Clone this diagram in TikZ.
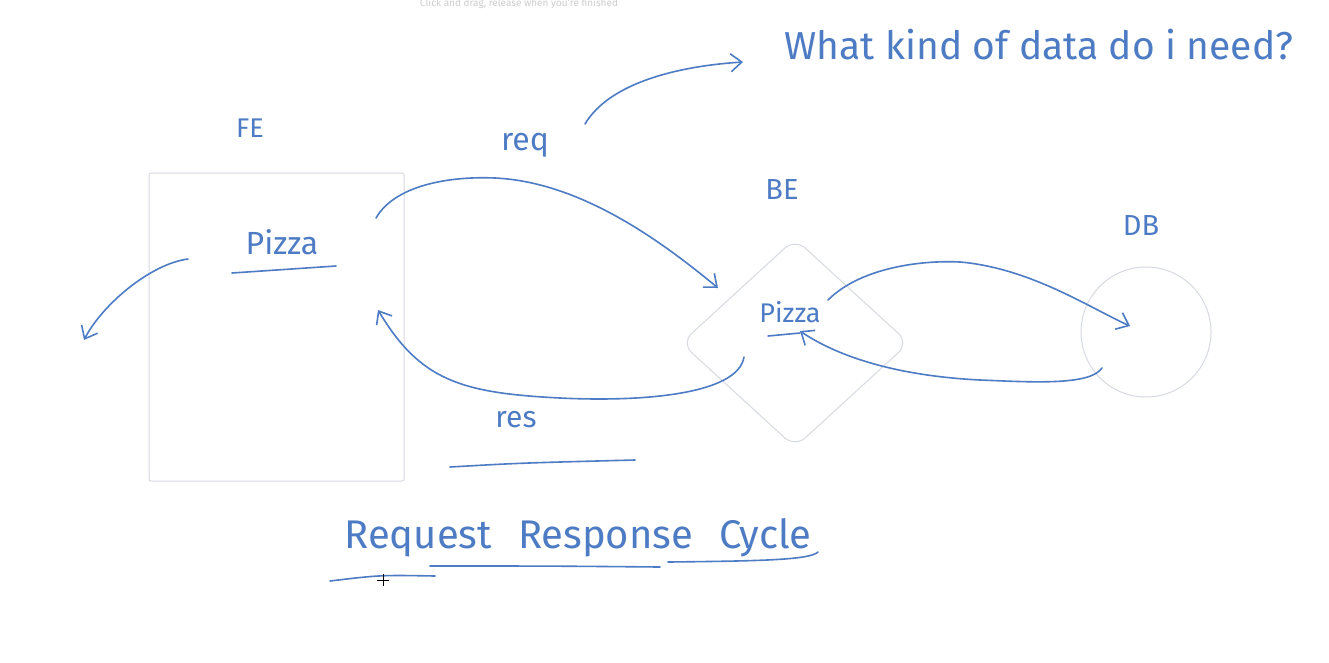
\documentclass[tikz,border=0pt]{standalone}
\usepackage{fontspec}
\setmainfont{Fira Sans}
\usetikzlibrary{arrows.meta,shapes.geometric}
\definecolor{ink}{RGB}{78,124,196}
\definecolor{frame}{RGB}{215,218,225}
\definecolor{hint}{RGB}{205,205,205}
\tikzset{
  pen/.style={draw=ink, line width=1.6pt, line cap=round, line join=round},
  arrowpen/.style={pen, -{Straight Barb[length=11pt,width=18pt,line width=1.6pt]}},
  hand/.style={text=ink, inner sep=0pt, anchor=center},
  shapeframe/.style={draw=frame, line width=1pt, inner sep=0pt},
}
\begin{document}
\begin{tikzpicture}[x=1pt,y=-1pt]
\useasboundingbox[fill=white] (0,0) rectangle (1329,662);
% hint text
\node[text=hint, font=\fontsize{10}{12}\selectfont, inner sep=0pt] (hinttext) at (519,4) {Click and drag, release when you're finished};
% shapes
\node[shapeframe, rectangle, rounded corners=2pt, minimum width=255pt, minimum height=308pt] (fe) at (276.5,327) {};
\node[shapeframe, diamond, rounded corners=14pt, minimum width=228pt, minimum height=209pt] (be) at (795,343) {};
\node[shapeframe, circle, minimum size=130pt] (db) at (1146,332) {};
% labels
\node[hand, font=\fontsize{27}{30}\selectfont] (felabel) at (250,128) {FE};
\node[hand, font=\fontsize{29}{32}\selectfont] (belabel) at (782,190) {BE};
\node[hand, font=\fontsize{29}{32}\selectfont] (dblabel) at (1141,226) {DB};
\node[hand, font=\fontsize{32}{34}\selectfont] (pizza1) at (282,242) {Pizza};
\node[hand, font=\fontsize{27}{30}\selectfont] (pizza2) at (790,312) {Pizza};
\node[hand, font=\fontsize{32}{34}\selectfont] (req) at (525,145) {req};
\node[hand, font=\fontsize{30}{32}\selectfont] (res) at (516,420) {res};
\node[hand, font=\fontsize{39}{42}\selectfont] (question) at (1039,45) {What kind of data do i need?};
\node[hand, font=\fontsize{40}{44}\selectfont] (title) at (578,538) {Request\hspace{26pt}Response\hspace{26pt}Cycle};
% underline coordinates
\coordinate (u1a) at (232,273); \coordinate (u1b) at (336,266);
\coordinate (u2a) at (768,336); \coordinate (u2b) at (800,333);
\coordinate (u3a) at (450,467); \coordinate (u3b) at (635,460);
\coordinate (t1a) at (330,581); \coordinate (t1b) at (435,576);
\coordinate (t2a) at (430,566); \coordinate (t2b) at (660,567);
\coordinate (t3a) at (668,562); \coordinate (t3b) at (818,552);
\draw[pen] (u1a) -- (u1b);
\draw[pen] (u2a) -- (u2b);
\draw[pen] (u3a) .. controls (520,463) .. (u3b);
\draw[pen] (t1a) .. controls (380,575) .. (t1b);
\draw[pen] (t2a) .. controls (550,566) .. (t2b);
\draw[pen] (t3a) .. controls (760,561) and (810,560) .. (t3b);
% connector coordinates
\coordinate (reqS) at (376,218); \coordinate (reqE) at (718,288);
\coordinate (resS) at (744,357); \coordinate (resE) at (378,310);
\coordinate (bdS) at (828,300); \coordinate (bdE) at (1130,326);
\coordinate (dbS) at (1102,368); \coordinate (dbE) at (800,331);
\coordinate (qS) at (585,124); \coordinate (qE) at (743,62);
\coordinate (lS) at (188,259); \coordinate (lE) at (84,340);
% connectors
\draw[arrowpen] (reqS) .. controls (395,185) and (450,176) .. (495,178) .. controls (580,182) and (660,240) .. (reqE);
\draw[arrowpen] (resS) .. controls (738,395) and (640,402) .. (560,398) .. controls (460,393) and (420,380) .. (resE);
\draw[arrowpen] (bdS) .. controls (860,268) and (920,260) .. (960,262) .. controls (1030,268) and (1090,308) .. (bdE);
\draw[arrowpen] (dbS) .. controls (1090,386) and (1030,382) .. (980,380) .. controls (900,376) and (840,358) .. (dbE);
\draw[arrowpen] (qS) .. controls (610,82) and (680,66) .. (qE);
\draw[arrowpen] (lS) .. controls (150,264) and (102,305) .. (lE);
% cursor
\coordinate (cur) at (383,580);
\draw[black, line width=0.8pt] ([xshift=-6pt]cur) -- ([xshift=6pt]cur) ([yshift=-6pt]cur) -- ([yshift=6pt]cur);
\end{tikzpicture}
\end{document}
